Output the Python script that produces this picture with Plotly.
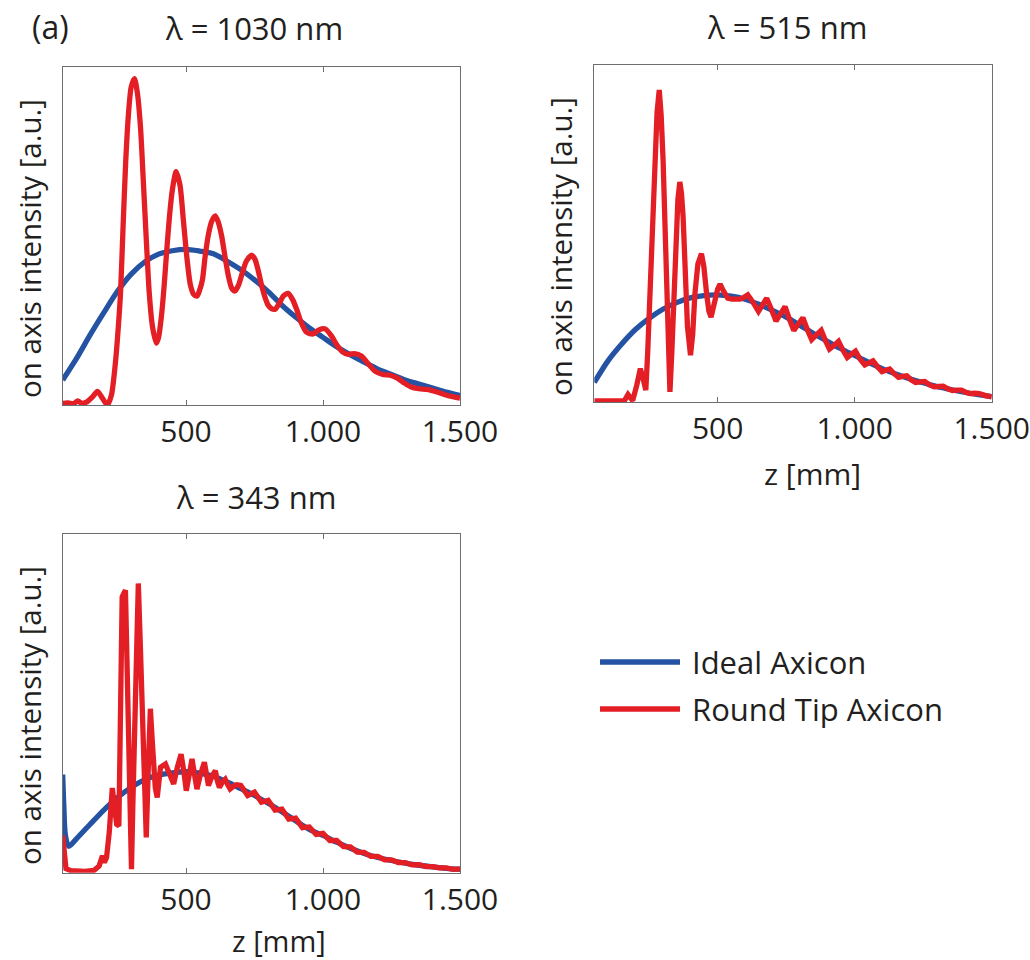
import plotly.graph_objects as go

W, H = 1030, 960

# ---------------- data ----------------
tick_vals = [500, 1000, 1500]
tick_text = ["500", "1.000", "1.500"]

titles = ["λ = 1030 nm", "λ = 515 nm", "λ = 343 nm"]
legend_names = ["Ideal Axicon", "Round Tip Axicon"]

z_blue = [50, 100, 150, 200, 250, 300, 350, 400, 450, 500,
          550, 600, 650, 700, 750, 800, 850, 900, 950, 1000,
          1050, 1100, 1150, 1200, 1250, 1300, 1350, 1400, 1450, 1500]

# lambda = 1030 nm
ideal_1030 = [0.074, 0.137, 0.207, 0.273, 0.336, 0.387, 0.423, 0.446, 0.456, 0.460,
              0.455, 0.447, 0.425, 0.400, 0.370, 0.335, 0.295, 0.260, 0.228, 0.200,
              0.172, 0.148, 0.127, 0.106, 0.090, 0.074, 0.062, 0.050, 0.038, 0.028]
z_round_1030 = [50, 70, 90, 105, 120, 140, 160, 177, 195, 213,
                228, 243, 252, 261, 270, 280, 290, 300, 312, 323,
                334, 345, 356, 366, 378, 392, 400, 410, 420, 430,
                440, 450, 464, 478, 490, 504, 516, 528, 540, 550,
                560, 570, 582, 595, 607, 618, 630, 642, 655, 667,
                679, 692, 704, 720, 740, 752, 764, 777, 789, 800,
                812, 825, 840, 855, 873, 890, 905, 920, 940, 964,
                985, 1008, 1030, 1050, 1070, 1093, 1115, 1140, 1165, 1190,
                1218, 1245, 1270, 1295, 1320, 1350, 1380, 1410, 1440, 1470,
                1500]
round_1030 = [0.005, 0.006, 0.004, 0.012, 0.005, 0.010, 0.025, 0.040, 0.020, 0.000,
              0.030, 0.130, 0.220, 0.330, 0.520, 0.720, 0.860, 0.940, 0.965, 0.920,
              0.820, 0.650, 0.475, 0.330, 0.230, 0.183, 0.200, 0.260, 0.350, 0.460,
              0.560, 0.635, 0.690, 0.650, 0.550, 0.430, 0.355, 0.327, 0.322, 0.340,
              0.370, 0.440, 0.505, 0.545, 0.559, 0.540, 0.500, 0.440, 0.380, 0.345,
              0.337, 0.355, 0.386, 0.425, 0.443, 0.430, 0.396, 0.350, 0.317, 0.295,
              0.285, 0.283, 0.300, 0.322, 0.330, 0.310, 0.280, 0.245, 0.215, 0.210,
              0.222, 0.225, 0.205, 0.178, 0.158, 0.150, 0.152, 0.145, 0.122, 0.100,
              0.090, 0.088, 0.080, 0.066, 0.054, 0.048, 0.046, 0.040, 0.032, 0.025,
              0.020]

# lambda = 515 nm
ideal_515 = [0.058, 0.122, 0.172, 0.215, 0.248, 0.275, 0.295, 0.309, 0.316, 0.318,
             0.314, 0.305, 0.290, 0.272, 0.252, 0.228, 0.203, 0.180, 0.158, 0.138,
             0.118, 0.099, 0.083, 0.069, 0.057, 0.046, 0.037, 0.029, 0.022, 0.016]
z_round_515 = [50, 80, 110, 140, 160, 173, 190, 205, 218, 228,
               238, 245, 252, 262, 271, 279, 287, 294, 301, 308,
               316, 321, 326, 333, 340, 347, 355, 362, 368, 374,
               382, 390, 401, 409, 417, 428, 441, 450, 460, 468,
               476, 483, 490, 500, 509, 521, 537, 552, 567, 582,
               595, 610, 630, 649, 665, 679, 696, 713, 730, 746,
               762, 778, 795, 811, 827, 843, 861, 878, 893, 908,
               925, 941, 957, 973, 988, 1003, 1020, 1037, 1052, 1067,
               1084, 1100, 1114, 1128, 1144, 1160, 1175, 1190, 1206, 1222,
               1240, 1256, 1273, 1290, 1306, 1323, 1340, 1357, 1373, 1390,
               1405, 1420, 1438, 1455, 1478, 1500]
round_515 = [0.003, 0.004, 0.003, 0.006, 0.004, 0.022, 0.004, 0.050, 0.099, 0.070,
             0.035, 0.150, 0.320, 0.520, 0.718, 0.860, 0.926, 0.850, 0.718, 0.520,
             0.320, 0.150, 0.030, 0.150, 0.320, 0.470, 0.600, 0.653, 0.620, 0.550,
             0.380, 0.223, 0.139, 0.200, 0.320, 0.410, 0.440, 0.400, 0.320, 0.270,
             0.252, 0.270, 0.300, 0.335, 0.350, 0.330, 0.308, 0.305, 0.306, 0.305,
             0.310, 0.318, 0.295, 0.269, 0.290, 0.308, 0.275, 0.240, 0.262, 0.283,
             0.245, 0.212, 0.232, 0.250, 0.215, 0.185, 0.200, 0.213, 0.183, 0.157,
             0.168, 0.180, 0.154, 0.132, 0.142, 0.151, 0.127, 0.110, 0.116, 0.122,
             0.104, 0.090, 0.094, 0.098, 0.084, 0.073, 0.076, 0.078, 0.066, 0.058,
             0.060, 0.061, 0.051, 0.045, 0.046, 0.047, 0.039, 0.034, 0.035, 0.035,
             0.029, 0.025, 0.026, 0.025, 0.019, 0.015]

# lambda = 343 nm
z_blue_343 = [50, 54, 60, 72, 100, 150, 200, 250, 300, 350,
              400, 450, 500, 550, 600, 650, 700, 750, 800, 850,
              900, 950, 1000, 1050, 1100, 1150, 1200, 1250, 1300, 1350,
              1400, 1450, 1500]
ideal_343 = [0.290, 0.200, 0.110, 0.078, 0.100, 0.143, 0.185, 0.222, 0.252, 0.275,
             0.288, 0.295, 0.298, 0.294, 0.285, 0.268, 0.248, 0.228, 0.205, 0.180,
             0.153, 0.128, 0.110, 0.090, 0.072, 0.057, 0.045, 0.036, 0.028, 0.022,
             0.017, 0.013, 0.010]
z_round_343 = [50, 57, 62, 80, 104, 130, 165, 183, 195, 202,
               210, 220, 231, 240, 247, 255, 261, 267, 279, 285,
               291, 301, 306, 312, 318, 326, 333, 340, 347, 355,
               362, 370, 376, 382, 388, 395, 407, 425, 443, 455,
               468, 482, 492, 501, 512, 522, 531, 540, 553, 567,
               575, 582, 595, 607, 615, 622, 633, 643, 652, 661,
               673, 685, 700, 725, 750, 775, 800, 825, 850, 875,
               900, 925, 950, 975, 1000, 1025, 1050, 1075, 1100, 1125,
               1150, 1175, 1200, 1225, 1250, 1275, 1300, 1325, 1350, 1375,
               1400, 1425, 1450, 1475, 1500]
round_343 = [0.110, 0.050, 0.012, 0.006, 0.005, 0.004, 0.007, 0.020, 0.050, 0.030,
             0.045, 0.120, 0.250, 0.180, 0.143, 0.138, 0.500, 0.814, 0.834, 0.620,
             0.420, 0.010, 0.200, 0.420, 0.700, 0.854, 0.680, 0.518, 0.300, 0.104,
             0.300, 0.484, 0.400, 0.301, 0.250, 0.222, 0.311, 0.321, 0.286, 0.262,
             0.310, 0.350, 0.300, 0.242, 0.290, 0.336, 0.290, 0.247, 0.290, 0.326,
             0.290, 0.257, 0.285, 0.301, 0.270, 0.252, 0.268, 0.276, 0.260, 0.247,
             0.255, 0.260, 0.258, 0.228, 0.238, 0.208, 0.214, 0.185, 0.188, 0.158,
             0.161, 0.133, 0.135, 0.113, 0.116, 0.095, 0.095, 0.077, 0.076, 0.061,
             0.060, 0.048, 0.048, 0.038, 0.038, 0.030, 0.030, 0.023, 0.024, 0.018,
             0.018, 0.014, 0.014, 0.010, 0.011]

# ---------------- styling ----------------
BLUE = "#2453a3"
RED = "#e31e25"
TXT = "#231f20"
AX = "#6d6e71"
FONT = "Open Sans"
LW = 5.3

# panel boxes in pixels: (left, right, top, bottom)
boxes = [(62.7, 460, 66.7, 405), (594.3, 991.7, 65, 402), (62.7, 460, 534, 872.7)]

fig = go.Figure()

panels = [
    (z_blue, ideal_1030, z_round_1030, round_1030, "spline"),
    (z_blue, ideal_515, z_round_515, round_515, "linear"),
    (z_blue_343, ideal_343, z_round_343, round_343, "linear"),
]

for i, (zb, yb, zr, yr, shp) in enumerate(panels):
    xa = "x" if i == 0 else f"x{i+1}"
    ya = "y" if i == 0 else f"y{i+1}"
    fig.add_trace(go.Scatter(x=zb, y=yb, mode="lines", xaxis=xa, yaxis=ya,
                             line=dict(color=BLUE, width=LW, shape="spline", smoothing=0.8),
                             name=legend_names[0], showlegend=False))
    fig.add_trace(go.Scatter(x=zr, y=yr, mode="lines", xaxis=xa, yaxis=ya,
                             line=dict(color=RED, width=LW, shape=shp,
                                       **({"smoothing": 0.7} if shp == "spline" else {})),
                             name=legend_names[1], showlegend=False))

layout = dict(width=W, height=H, autosize=False, margin=dict(l=0, r=0, t=0, b=0, pad=0, autoexpand=False),
              paper_bgcolor="white", plot_bgcolor="white", showlegend=False,
              font=dict(family=FONT, color=TXT), template="none")

for i, (l, r, t, b) in enumerate(boxes):
    xk = "xaxis" if i == 0 else f"xaxis{i+1}"
    yk = "yaxis" if i == 0 else f"yaxis{i+1}"
    layout[xk] = dict(domain=[l / W, r / W], range=[50, 1500], anchor="y" if i == 0 else f"y{i+1}",
                      tickvals=tick_vals, ticktext=tick_text, ticks="inside", ticklen=5,
                      tickcolor=AX, showline=True, linecolor=AX, linewidth=1.3, mirror="ticks",
                      showgrid=False, zeroline=False, automargin=False,
                      tickfont=dict(size=30, color=TXT, family=FONT))
    layout[yk] = dict(domain=[1 - b / H, 1 - t / H], range=[0, 1], anchor="x" if i == 0 else f"x{i+1}",
                      showticklabels=False, ticks="", showline=True, linecolor=AX, linewidth=1.3,
                      mirror=True, showgrid=False, zeroline=False, automargin=False)

fig.update_layout(**layout)

ann = []
def txt(x, y, s, size=29, angle=0, xanchor="center"):
    ann.append(dict(x=x / W, y=1 - y / H, xref="paper", yref="paper", text=s, showarrow=False,
                    textangle=angle, xanchor=xanchor, yanchor="middle",
                    font=dict(size=size, family=FONT, color=TXT)))

txt(50, 27, "(a)", size=32)
txt(254, 28, titles[0], size=31)
txt(787, 27, titles[1], size=31)
txt(256, 497, titles[2], size=31)
txt(29, 249, "on axis intensity [a.u.]", size=29.5, angle=-90)
txt(560, 247, "on axis intensity [a.u.]", size=29.5, angle=-90)
txt(29, 716, "on axis intensity [a.u.]", size=29.5, angle=-90)
txt(812, 473, "z [mm]", size=30)
txt(279, 940, "z [mm]", size=29)
txt(690, 662, legend_names[0], size=31, xanchor="left")
txt(690, 709, legend_names[1], size=31, xanchor="left")

shapes = [
    dict(type="line", xref="paper", yref="paper", x0=600 / W, x1=680 / W, y0=1 - 662 / H, y1=1 - 662 / H,
         line=dict(color=BLUE, width=LW)),
    dict(type="line", xref="paper", yref="paper", x0=600 / W, x1=680 / W, y0=1 - 709 / H, y1=1 - 709 / H,
         line=dict(color=RED, width=LW)),
]
fig.update_layout(annotations=ann, shapes=shapes)

fig.write_html("out.html", config={"responsive": False, "displayModeBar": False},
               post_script="document.body.style.margin='0';document.body.style.overflow='hidden';")
